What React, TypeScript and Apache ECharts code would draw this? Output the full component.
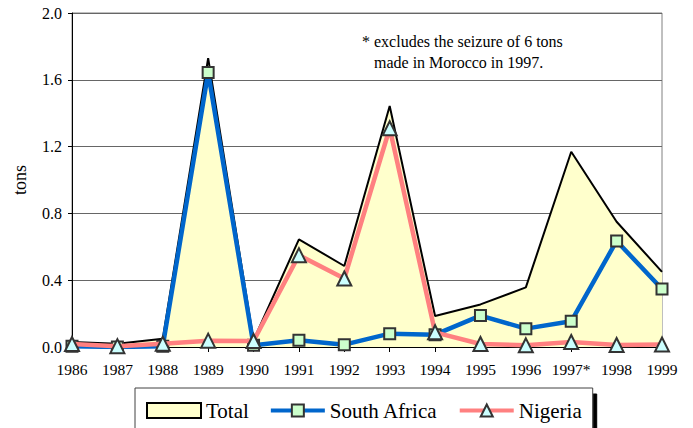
import React, { useEffect, useRef } from "react";
import * as echarts from "echarts";

const years = ["1986", "1987", "1988", "1989", "1990", "1991", "1992", "1993", "1994", "1995", "1996", "1997*", "1998", "1999"];
const totalValues = [0.03, 0.02, 0.05, 1.73, 0.04, 0.645, 0.485, 1.443, 0.186, 0.255, 0.357, 1.169, 0.75, 0.45];
const southAfricaValues = [0.005, 0.0, 0.005, 1.643, 0.01, 0.04, 0.014, 0.08, 0.074, 0.188, 0.11, 0.154, 0.635, 0.347];
const nigeriaValues = [0.018, 0.005, 0.02, 0.038, 0.036, 0.55, 0.41, 1.31, 0.088, 0.018, 0.01, 0.03, 0.012, 0.015];
const yTicks = [0, 0.4, 0.8, 1.2, 1.6, 2.0];
const noteLines = ["* excludes the seizure of 6 tons", "made in Morocco in 1997."];

const FONT = "'Liberation Serif', 'Times New Roman', serif";

export default function App() {
  const ref = useRef<HTMLDivElement>(null);
  useEffect(() => {
    if (!ref.current) return;
    const chart = echarts.init(ref.current, undefined, { renderer: "svg" });
    chart.setOption({
      animation: false,
      backgroundColor: "#ffffff",
      grid: {
        left: 72,
        top: 13,
        right: 31,
        bottom: 81,
        show: true,
        borderColor: "#808080",
        borderWidth: 1,
        backgroundColor: "transparent",
      },
      xAxis: {
        type: "category",
        data: years,
        boundaryGap: false,
        axisLine: { lineStyle: { color: "#000", width: 1 } },
        axisTick: { show: true, length: 5, interval: 0, lineStyle: { color: "#000" } },
        axisLabel: { color: "#000", fontFamily: FONT, fontSize: 15.5, margin: 14, interval: 0 },
        splitLine: { show: false },
      },
      yAxis: {
        type: "value",
        min: yTicks[0],
        max: yTicks[yTicks.length - 1],
        interval: 0.4,
        axisLine: { show: true, lineStyle: { color: "#000", width: 1 } },
        axisTick: { show: true, length: 4, lineStyle: { color: "#000" } },
        axisLabel: {
          color: "#000",
          fontFamily: FONT,
          fontSize: 16,
          margin: 10,
          formatter: (v: number) => v.toFixed(1),
        },
        splitLine: { show: true, lineStyle: { color: "#666", width: 1 } },
      },
      legend: {
        left: 135,
        top: 388,
        orient: "horizontal",
        itemWidth: 54,
        itemHeight: 15,
        itemGap: 20,
        padding: [12, 11, 12, 11],
        backgroundColor: "#fff",
        borderColor: "#404040",
        borderWidth: 1,
        shadowColor: "#000",
        shadowBlur: 0,
        shadowOffsetX: 4,
        shadowOffsetY: 6,
        textStyle: { color: "#000", fontFamily: FONT, fontSize: 21 },
        data: [
          {
            name: "Total",
            icon: "rect",
            itemStyle: { color: "#FFFFCC", borderColor: "#000", borderWidth: 2 },
          },
          { name: "South Africa", lineStyle: { width: 4, color: "#0066CC" } },
          { name: "Nigeria", lineStyle: { width: 4, color: "#FF8080" } },
        ],
      },
      graphic: [
        {
          type: "text",
          x: 20,
          y: 180,
          rotation: Math.PI / 2,
          style: {
            text: "tons",
            fontFamily: FONT,
            fontSize: 18,
            fill: "#000",
            align: "center",
            verticalAlign: "middle",
          },
        },
        {
          type: "text",
          x: 362,
          y: 41,
          style: {
            text: noteLines[0],
            fontFamily: FONT,
            fontSize: 16,
            fill: "#000",
            align: "left",
            verticalAlign: "middle",
          },
        },
        {
          type: "text",
          x: 374,
          y: 62,
          style: {
            text: noteLines[1],
            fontFamily: FONT,
            fontSize: 16,
            fill: "#000",
            align: "left",
            verticalAlign: "middle",
          },
        },
      ],
      series: [
        {
          name: "Total",
          type: "line",
          data: totalValues,
          symbol: "none",
          lineStyle: { color: "#000", width: 2 },
          itemStyle: { color: "#FFFFCC", borderColor: "#000" },
          areaStyle: { color: "#FFFFCC", opacity: 1 },
          z: 2,
        },
        {
          name: "South Africa",
          type: "line",
          data: southAfricaValues,
          symbol: "rect",
          symbolSize: 11,
          lineStyle: { color: "#0066CC", width: 4.5 },
          itemStyle: { color: "#CCFFCC", borderColor: "#333", borderWidth: 2 },
          z: 3,
        },
        {
          name: "Nigeria",
          type: "line",
          data: nigeriaValues,
          symbol: "triangle",
          symbolSize: 14,
          lineStyle: { color: "#FF8080", width: 4.5 },
          itemStyle: { color: "#CCFFFF", borderColor: "#333", borderWidth: 2 },
          z: 4,
        },
      ],
    });
    return () => chart.dispose();
  }, []);
  return (
    <div
      ref={ref}
      style={{ position: "fixed", left: 0, top: 0, width: 693, height: 428, background: "#fff" }}
    />
  );
}
